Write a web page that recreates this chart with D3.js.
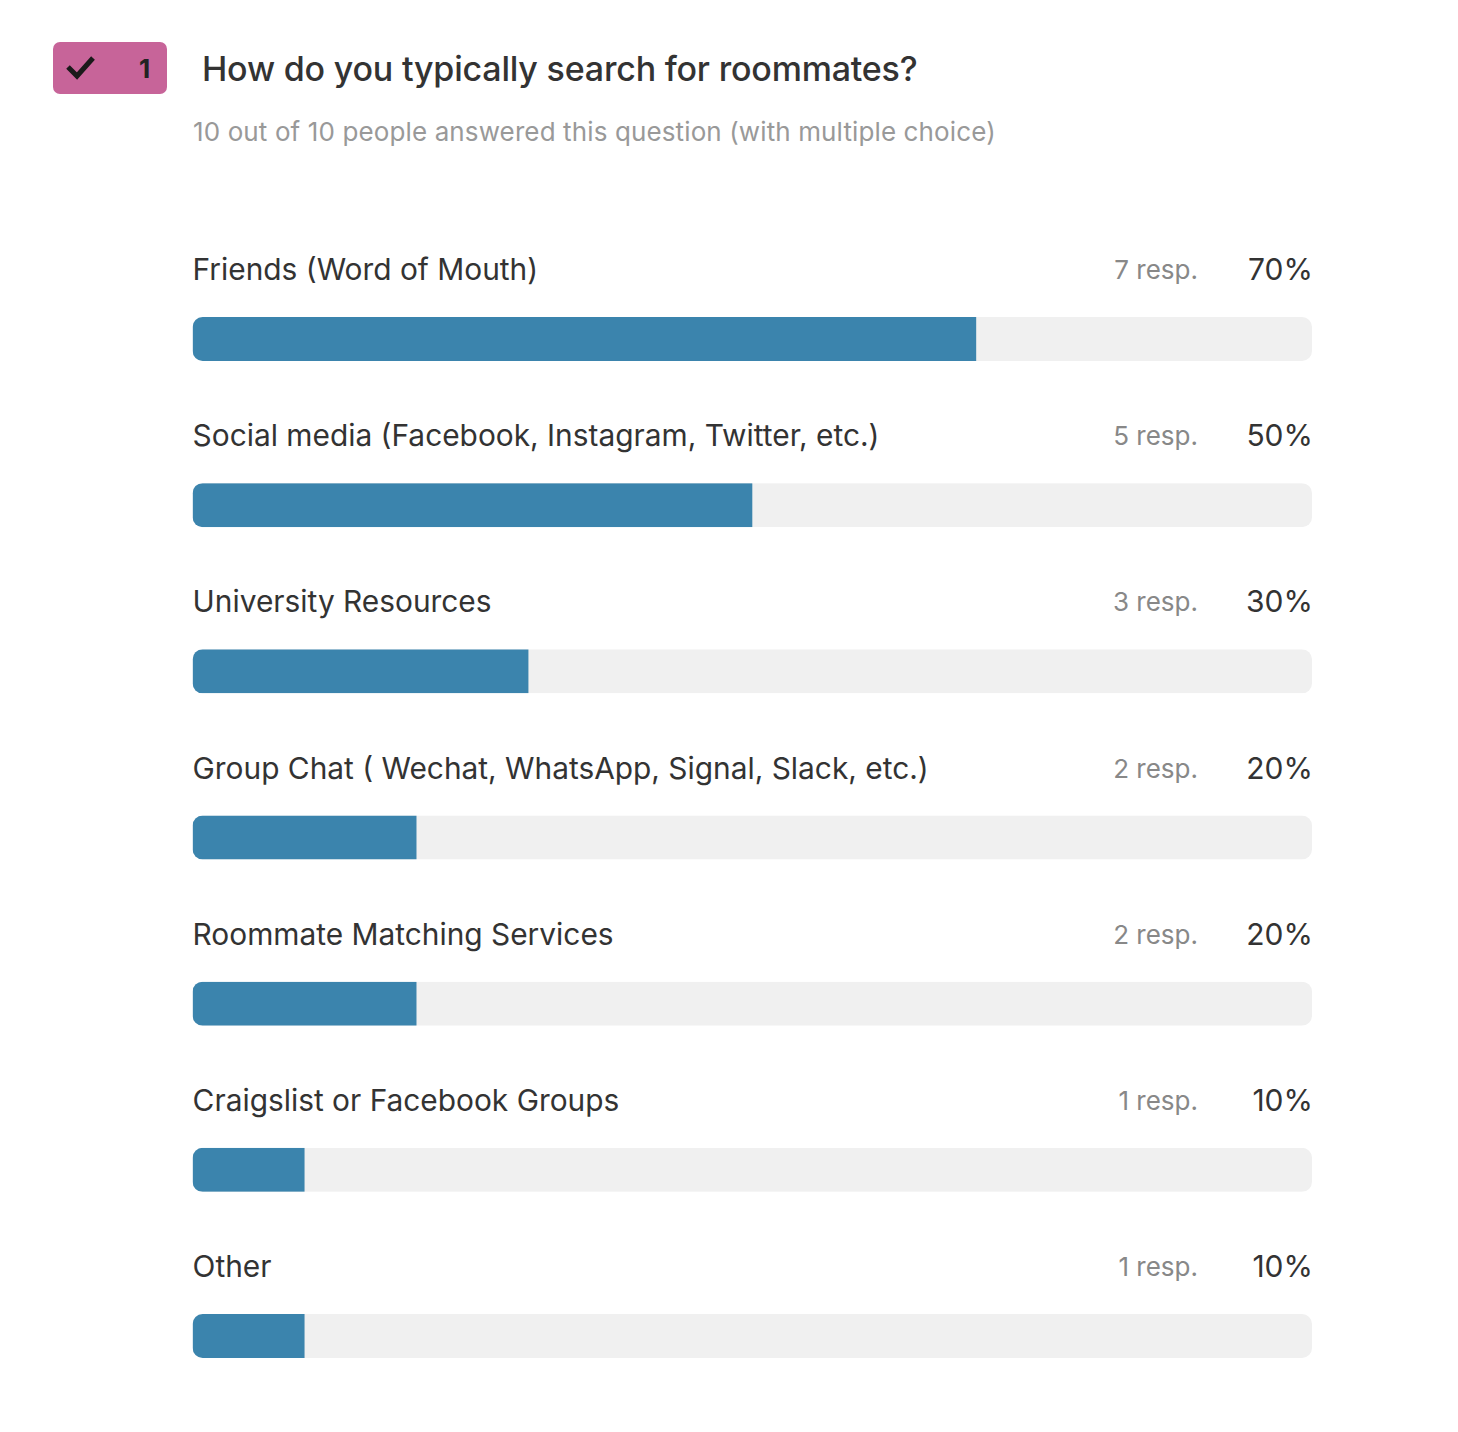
<!DOCTYPE html>
<html>
<head>
<meta charset="utf-8">
<script src="https://cdn.jsdelivr.net/npm/d3@7"></script>
<style>
  html, body { margin: 0; padding: 0; background: #fff; }
  svg { display: block; }
  text { font-family: Inter, "Open Sans", sans-serif; }
</style>
</head>
<body>
<script>
const categories = [
  "Friends (Word of Mouth)",
  "Social media (Facebook, Instagram, Twitter, etc.)",
  "University Resources",
  "Group Chat ( Wechat, WhatsApp, Signal, Slack, etc.)",
  "Roommate Matching Services",
  "Craigslist or Facebook Groups",
  "Other"
];
const responses = [7, 5, 3, 2, 2, 1, 1];
const percents = [70, 50, 30, 20, 20, 10, 10];
const title = "How do you typically search for roommates?";
const subtitle = "10 out of 10 people answered this question (with multiple choice)";

const width = 1458, height = 1432;
const svg = d3.select("body").append("svg").attr("width", width).attr("height", height);

// question badge
svg.append("rect").attr("x", 53).attr("y", 42).attr("width", 114).attr("height", 52)
  .attr("rx", 7).attr("fill", "#c76499");
svg.append("path").attr("d", "M68 67 L77 76 L93 58")
  .attr("fill", "none").attr("stroke", "#1a1a1a").attr("stroke-width", 5);
svg.append("text").attr("x", 144.5).attr("y", 78).attr("text-anchor", "middle")
  .attr("font-size", 26).attr("font-weight", 700).attr("fill", "#222").text("1");

svg.append("text").attr("x", 202).attr("y", 81).attr("font-size", 34)
  .attr("font-weight", 500).attr("letter-spacing", -0.2)
  .attr("fill", "#333").text(title);
svg.append("text").attr("x", 193).attr("y", 141).attr("font-size", 26)
  .attr("letter-spacing", 0.12).attr("fill", "#999").text(subtitle);

const x = d3.scaleLinear().domain([0, 100]).range([192.6, 1312]);
const y = d3.scalePoint().domain(categories).range([317, 1314]);
const barH = 44;

const rows = svg.selectAll("g.row").data(categories).join("g").attr("class", "row");

rows.append("clipPath").attr("id", (d, i) => "clip" + i)
  .append("rect").attr("x", x(0)).attr("y", d => y(d))
  .attr("width", x(100) - x(0)).attr("height", barH).attr("rx", 10);

rows.append("rect").attr("x", x(0)).attr("y", d => y(d))
  .attr("width", x(100) - x(0)).attr("height", barH).attr("fill", "#f0f0f0")
  .attr("clip-path", (d, i) => `url(#clip${i})`);

rows.append("rect").attr("x", x(0)).attr("y", d => y(d))
  .attr("width", (d, i) => x(percents[i]) - x(0)).attr("height", barH).attr("fill", "#3b84ad")
  .attr("clip-path", (d, i) => `url(#clip${i})`);

rows.append("text").attr("x", 192.6).attr("y", d => y(d) - 37)
  .attr("font-size", 29.87).attr("fill", "#333").text(d => d);

rows.append("text").attr("x", 1198).attr("y", d => y(d) - 38).attr("text-anchor", "end")
  .attr("font-size", 26).attr("fill", "#888").text((d, i) => responses[i] + " resp.");

rows.append("text").attr("x", 1313).attr("y", d => y(d) - 37).attr("text-anchor", "end")
  .attr("font-size", 30).attr("fill", "#333").text((d, i) => percents[i] + "%");
</script>
</body>
</html>
